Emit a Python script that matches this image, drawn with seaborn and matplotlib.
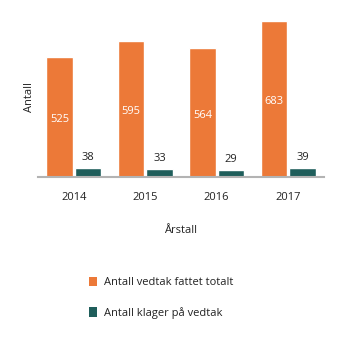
import matplotlib
matplotlib.use("Agg")
import matplotlib.pyplot as plt
import seaborn as sns
import pandas as pd
from matplotlib.patches import Patch

years = ["2014", "2015", "2016", "2017"]
vedtak = [525, 595, 564, 683]
klager = [38, 33, 29, 39]
series_names = ["Antall vedtak fattet totalt", "Antall klager på vedtak"]
colors = ["#EC7938", "#1F5E5B"]

df = pd.DataFrame({
    "År": years * 2,
    "Antall": vedtak + klager,
    "Serie": [series_names[0]] * len(years) + [series_names[1]] * len(years),
})

sns.set_style("white")
plt.rcParams["font.family"] = ["Open Sans", "DejaVu Sans"]

fs = 8
fig = plt.figure(figsize=(3.46, 3.41), dpi=100)
ax = fig.add_axes([0.11, 0.482, 0.826, 0.467])

sns.barplot(data=df, x="År", y="Antall", hue="Serie", palette=colors,
            width=0.8, gap=0.08, ax=ax, legend=False, saturation=1)

ax.set_ylim(0, 700)
ax.set_xlim(-0.5, 3.5)

# value labels: white inside the tall bars, black above the small ones
for i, cont in enumerate(ax.containers):
    for bar, val in zip(cont, [vedtak, klager][i]):
        x = bar.get_x() + bar.get_width() / 2
        if i == 0:
            ax.text(x, val / 2 - 12, str(val), ha="center", va="center",
                    color="white", fontsize=fs)
        else:
            ax.text(x, val + 22, str(val), ha="center", va="bottom",
                    color="#222222", fontsize=fs)

for s in ["top", "right", "left"]:
    ax.spines[s].set_visible(False)
ax.spines["bottom"].set_color("#b3b3b3")
ax.spines["bottom"].set_linewidth(1.5)
ax.set_yticks([])
ax.tick_params(axis="x", length=0, pad=11, labelsize=fs, labelcolor="#222222")
ax.set_ylabel("Antall", fontsize=fs, color="#222222", labelpad=2)
ax.set_xlabel("Årstall", fontsize=fs, color="#222222", labelpad=16)

handles = [Patch(facecolor=c, edgecolor="none") for c in colors]
fig.legend(handles, series_names, loc="upper left", bbox_to_anchor=(0.228, 0.218),
           frameon=False, fontsize=fs, handlelength=0.7, handleheight=0.9,
           handletextpad=0.7, labelspacing=1.7, labelcolor="#222222")

fig.savefig("out.png", dpi=100)
